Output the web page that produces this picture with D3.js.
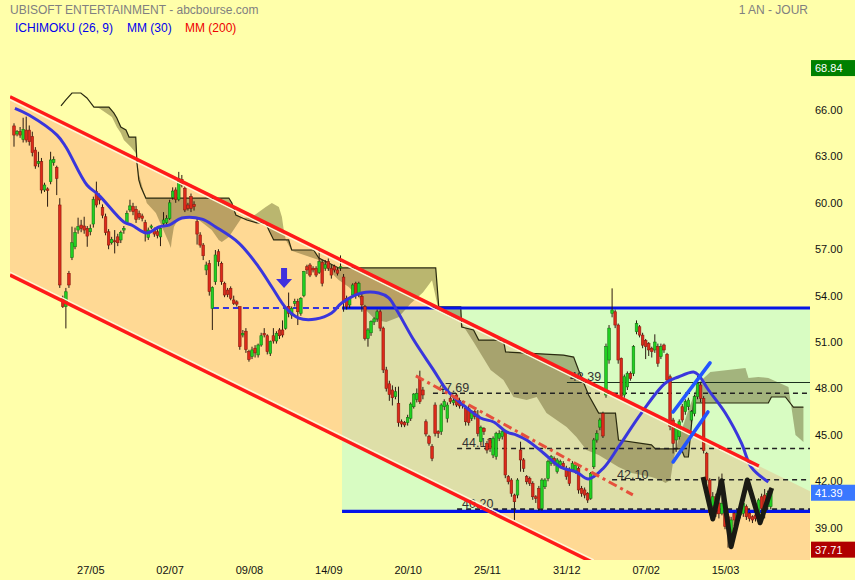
<!DOCTYPE html>
<html><head><meta charset="utf-8">
<script src="https://cdn.jsdelivr.net/npm/d3@7"></script>
<style>body{margin:0;background:#FFFFAA;} svg{display:block;font-family:"Liberation Sans",Arial,sans-serif;}</style>
</head><body><svg id="c" width="855" height="580"></svg>
<script>
// ---------- DATA ----------
const firstDay = "2021-04-22";
const nDays = 249;
const tickLabels = ["27/05","02/07","09/08","14/09","20/10","25/11","31/12","07/02","15/03"];
const yTickValues = [66,63,60,57,54,51,48,45,42,39];

const opens = [64.97,64.45,64.6,64.1,64.7,64.7,64.28,63.41,62.55,62.66,60.83,60.9,61.37,62.6,62.29,59.86,53.8,53.3,55.44,56.47,57.16,58.24,58.56,58.5,58.35,58.13,58.63,60.72,60.4,59.7,59.1,58.13,57.42,57.55,57.8,57.6,58.24,58.72,59.54,59.75,59.58,59.3,59.15,58.72,57.77,58.42,58.24,58.13,57.8,58.67,58.72,59.0,60.35,60.83,60.22,61.52,60.94,59.86,60.4,59.9,58.78,
57.92,57.27,55.66,56.09,53.18,54.9,56.84,56.09,54.8,54.36,54.47,53.72,53.6,53.29,51.46,51.7,50.38,50.06,50.6,50.17,50.81,51.56,51.41,50.27,51.41,51.07,51.78,51.78,51.89,53.3,52.75,53.5,53.61,52.86,54.0,55.87,55.98,55.77,55.77,55.5,56.15,55.77,56.2,55.77,55.9,55.66,55.8,55.2,53.83,53.4,54.04,54.8,54.1,53.94,53.29,51.24,51.6,52.3,52.5,52.96,51.9,49.2,48.3,47.9,
47.47,47.04,45.85,45.79,45.79,46.07,46.82,47.3,48.65,47.9,45.85,44.9,44.24,46.93,45.21,45.21,46.82,46.07,47.36,47.08,47.58,47.21,46.9,46.72,46.72,46.07,46.5,46.28,44.56,45.42,44.45,44.67,43.7,43.59,44.78,44.9,45.21,42.3,42.08,41.11,41.11,44.02,43.38,42.3,42.19,41.87,41.0,41.54,40.25,41.65,42.19,43.16,43.48,42.62,43.05,43.16,42.84,42.73,42.73,42.62,42.84,41.54,41.44,41.22,40.9,42.94,44.67,45.5,
46.39,47.58,49.84,52.86,52.96,52.1,49.95,47.58,48.1,48.98,48.98,51.67,51.99,51.45,51.1,50.9,50.6,50.49,50.7,50.06,50.81,50.2,48.76,45.96,44.67,44.88,46.82,46.5,46.82,45.96,46.39,47.47,48.22,47.36,43.8,
42.08,40.4,41.0,40.6,39.93,39.93,39.71,38.53,39.93,39.5,39.82,39.93,40.36,39.93,39.71,39.82,39.93,41.0,41.11,40.36,40.36];
const highs = [65.14,64.7,64.9,65.5,65.57,65.0,64.6,63.6,63.3,62.9,61.3,61.0,63.3,63.0,62.4,60.3,54.0,54.5,55.6,58.46,58.4,59.04,58.9,59.1,58.5,58.6,60.4,61.37,60.6,59.9,59.3,58.3,57.8,58.24,58.0,58.2,58.5,59.5,60.2,60.0,59.8,59.5,59.3,58.9,58.4,58.6,58.4,58.3,58.5,59.4,59.2,60.2,61.0,61.0,62.0,61.8,61.1,60.0,60.6,60.1,59.0,
58.1,57.4,56.2,56.3,54.6,56.95,57.0,56.2,54.9,54.5,54.6,54.0,53.7,53.3,51.78,51.9,50.5,50.7,50.8,50.9,51.6,51.9,51.5,51.1,51.9,51.7,51.9,52.4,53.3,54.2,53.3,53.8,53.8,53.9,55.6,56.0,56.1,55.9,55.9,57.1,56.3,56.3,56.4,56.0,56.0,55.8,56.6,55.4,54.0,53.9,54.8,54.9,54.9,54.1,53.4,51.9,52.4,52.6,53.1,53.1,52.0,49.4,48.5,48.2,
48.1,48.12,46.0,45.9,46.3,47.1,47.7,48.0,49.15,48.1,46.0,45.0,44.4,47.1,45.3,47.04,47.3,47.1,47.5,47.4,47.7,47.4,47.2,46.9,46.9,46.6,46.6,46.6,45.6,45.5,44.6,44.8,44.9,45.2,45.3,45.4,45.3,42.4,42.2,41.2,42.2,44.56,43.5,42.4,42.3,42.0,41.1,41.7,42.2,42.2,43.4,43.7,43.6,43.5,43.4,43.3,43.0,42.9,43.3,43.2,43.0,41.7,41.6,41.3,42.6,44.8,45.3,46.1,
46.5,50.9,52.1,54.47,53.1,52.2,50.0,48.9,49.1,49.1,50.8,52.4,52.1,51.6,51.2,51.0,50.7,51.5,50.9,50.9,50.9,50.3,48.9,46.1,45.5,46.0,47.0,47.3,47.4,46.6,47.6,48.8,48.4,47.5,43.9,
42.2,41.3,41.2,42.3,42.5,40.1,39.8,39.7,40.0,40.2,40.4,40.7,40.5,40.0,39.8,39.9,40.9,41.2,41.5,41.4,41.6];
const lows = [63.63,64.3,64.2,63.9,63.9,63.7,63.0,62.2,62.3,60.6,60.7,59.75,61.2,62.4,60.5,54.5,53.2,51.88,54.5,56.3,57.0,58.0,58.1,58.0,57.16,57.9,58.4,59.7,59.9,59.0,57.9,57.0,57.3,56.73,57.2,57.4,58.0,58.6,59.4,59.2,58.7,58.9,58.8,57.5,57.6,58.3,57.8,57.7,57.2,58.5,58.6,58.9,60.2,60.0,60.1,61.0,59.4,59.5,59.4,59.5,57.3,
57.1,56.3,55.33,54.0,51.78,54.7,55.9,54.7,53.9,53.9,53.7,53.4,53.3,50.5,51.3,50.3,49.73,49.9,50.0,50.0,50.7,51.3,50.2,50.1,50.9,50.9,51.2,51.3,51.8,52.6,52.5,53.3,52.1,52.7,53.9,55.4,55.2,55.5,55.2,55.4,54.6,55.6,55.6,55.1,55.5,55.3,55.6,52.96,53.1,53.2,53.9,53.8,53.9,52.96,51.1,50.7,51.4,52.1,52.3,51.7,49.0,47.8,47.2,46.9,
47.3,45.53,45.5,45.5,45.6,45.9,46.7,47.1,47.0,47.3,44.9,44.3,43.3,44.9,44.8,45.0,46.6,45.8,47.0,46.9,46.8,46.7,46.7,45.6,45.6,45.9,46.0,44.9,44.3,45.0,43.8,43.9,43.5,43.4,44.6,44.7,42.2,41.8,41.0,39.5,40.9,42.62,42.6,41.8,41.7,40.8,40.6,40.1,40.1,41.5,42.0,43.0,43.0,42.5,42.9,42.8,42.1,41.7,42.6,42.5,41.2,41.0,40.9,40.6,40.8,42.8,44.5,45.3,
44.8,47.4,49.6,52.6,51.9,49.6,47.3,47.4,47.9,48.5,48.8,51.5,51.3,50.6,49.9,50.1,50.0,50.3,49.4,49.9,50.3,48.4,45.3,43.8,43.9,44.7,45.8,46.3,46.6,45.8,46.2,47.3,47.1,43.8,41.9,
39.8,40.2,39.7,39.6,39.8,38.9,37.71,38.4,39.1,39.3,39.6,39.7,39.5,39.4,39.3,39.4,39.8,40.1,39.6,40.2,40.2];
const closes = [64.38,64.6,64.38,64.75,64.06,63.95,63.24,62.38,62.66,60.83,61.15,60.8,62.77,62.8,61.58,54.69,53.3,54.25,54.69,57.42,58.07,58.46,58.35,58.24,57.85,58.35,60.22,59.86,60.18,59.2,58.07,57.27,57.64,57.5,57.42,58.07,58.35,59.32,59.8,59.43,58.93,59.06,59.0,58.03,58.24,58.5,57.98,57.9,58.35,58.89,59.0,60.0,60.76,60.22,61.58,61.15,59.54,59.64,59.64,59.75,57.98,
57.27,56.58,55.98,54.26,54.52,56.63,56.2,54.9,54.04,54.08,53.83,53.5,53.45,50.7,51.56,50.53,49.88,50.49,50.3,50.81,51.41,51.46,50.38,51.03,51.07,51.56,51.41,51.46,53.18,52.86,53.18,53.61,52.96,53.83,55.55,55.66,55.33,55.66,55.33,56.2,54.8,56.0,55.77,55.33,55.66,55.45,55.87,53.61,53.3,53.8,54.69,54.0,54.8,53.4,51.24,51.78,52.32,52.5,52.96,51.9,49.2,48.0,47.6,47.4,
47.79,45.79,45.7,45.64,46.13,46.99,47.64,47.69,47.15,47.58,45.06,44.45,43.48,45.1,45.1,46.93,47.15,46.93,47.15,47.21,46.93,46.87,47.08,45.85,45.79,46.5,46.18,45.1,45.49,45.21,44.02,44.13,44.78,45.1,45.1,45.21,42.41,41.97,41.22,40.68,42.08,43.38,42.84,41.97,41.87,41.0,40.9,40.25,42.08,42.08,43.27,43.59,43.16,43.38,43.27,42.94,42.3,41.87,43.16,43.05,41.44,41.22,41.11,40.79,42.51,44.67,45.1,45.96,
44.93,50.7,51.9,53.07,52.1,49.84,47.47,48.76,48.98,48.65,50.7,52.2,51.45,50.8,50.7,50.49,50.38,51.0,49.63,50.7,50.49,48.55,45.53,44.45,45.4,45.85,45.96,47.15,47.25,46.5,47.47,48.33,47.36,44.0,42.08,
40.0,41.0,39.9,39.9,40.57,39.07,39.07,39.5,39.5,39.93,40.25,40.57,39.71,39.6,39.5,39.6,40.79,40.25,40.25,41.22,41.39];

// MM 30
const mmIdx = [0.3,4.9,14.1,17,23.9,27.8,36,38.6,43.5,47.5,50.8,55,61.6,66.1,73.7,80.2,84.5,89.1,93.3,98.9,104.1,107.4,113.9,119.5,122.8,125.4,131,137.5,141.8,146.4,152.9,157.2,161.4,164.7,168,173.5,179.1,184.3,188.3,193.2,198.1,205.6,213.5,217.7,222.7,224.3,227.6,233.1,238.4,241.6,247.2];
const mmVal = [66.11,65.68,64.38,63.61,61.15,60.5,58.76,58.56,58.05,58.44,58.56,59.02,58.95,58.44,57.4,55.85,54.56,53.2,52.55,52.49,52.88,53.52,54.17,54.17,53.85,53.07,51.13,49.19,47.9,47.06,46.09,45.83,45.19,44.99,44.67,43.83,42.92,42.6,42.15,42.86,44.22,46.41,48.35,48.74,49.06,48.87,47.9,46.41,44.47,42.92,41.95];

// Ichimoku cloud spans (shifted 26 days ahead)
const spanBIdx = [15.4,17.0,19.0,21.9,23.9,26.2,31.1,32.7,33.7,35.0,36.7,37.7,39.9,40.3,40.9,41.6,43.2,70.4,71.4,72.7,76.3,79.6,82.5,83.5,85.1,90.0,91.0,98.2,99.9,106.4,138.2,139.2,146.4,146.7,150.6,152.3,160.4,161.1,180.1,183.4,185.0,188.3,191.6,197.1,198.1,208.9,210.2,218.7,219.7,221.0,222.7,247.2,248.2,252.8,255.4,258.7];
const spanBVal = [66.26,66.65,67.10,67.10,66.78,66.19,66.19,65.81,65.48,64.90,64.71,64.25,64.25,62.57,61.48,61.02,60.31,60.31,59.99,59.21,58.89,58.70,58.70,58.24,57.60,57.60,56.95,56.95,56.43,55.79,55.79,53.27,53.27,51.97,51.78,51.13,51.13,50.36,50.16,50.03,49.19,47.58,46.41,46.41,44.67,44.35,44.09,44.09,43.57,43.57,47.06,47.06,47.45,47.45,46.80,46.80];
const spanAIdx = [15.4,17.0,19.0,21.9,23.9,26.2,27.8,32.1,33.7,35.0,36.0,38.3,39.9,41.0,43.5,46.5,48.5,50.8,51.4,51.7,52.4,54.0,57.3,60.6,64.8,67.1,68.1,70.4,74.5,77.9,82.5,84.5,86.8,87.8,88.4,89.1,91.0,99.9,104.1,106.4,109.7,113.0,115.3,118.5,122.0,126.0,130.0,134.0,137.0,139.2,146.4,150.6,156.2,160.4,163.7,168.0,171.3,174.5,181.1,184.3,187.6,191.6,198.1,202.4,208.9,211.9,213.5,215.1,216.1,217.7,221.0,224.3,228.2,239.7,240.7,243.9,247.2,253.8,256.1,258.7];
const spanAVal = [66.26,66.65,67.10,67.10,66.78,66.19,66.13,65.55,64.90,64.51,64.06,63.61,63.22,61.80,59.99,59.34,58.44,57.40,57.08,57.60,58.44,59.02,59.08,58.89,58.24,57.60,57.47,57.79,59.00,59.08,59.73,59.99,59.73,59.08,58.24,57.60,56.90,56.30,55.46,55.01,54.56,53.91,53.07,52.43,52.30,52.60,53.50,54.20,55.00,53.00,52.30,51.00,49.19,48.55,47.45,47.25,47.45,46.41,45.51,44.86,44.02,43.70,42.92,42.53,42.28,42.08,41.89,42.08,43.38,44.67,46.61,48.35,49.06,49.32,48.68,48.74,48.68,48.09,44.99,44.54];

// drawn analysis objects (index, price)
const channelUpper = [[-1.31,66.86],[244.1,42.99]];
const channelLower = [[-1.31,55.33],[190,36.72]];
const boxRange = {from:107.5, to:262, top:53.2, bottom:40.05};
const supportDashFrom = 65.2;
const levels = [{v:47.69,from:137.3,label:"47.69"},{v:44.12,from:145.2,label:"44.12"},{v:42.10,from:196,label:"42.10"},{v:40.20,from:145.2,label:"40.20"}];
const level4839 = {v:48.39,from:181.2,label:"48.39"};
const trendDashDot = [[131.7,48.81],[202.8,41.12]];
const flagLine1 = [[216,46.48],[228.1,49.65]];
const flagLine2 = [[216,43.25],[227.4,46.48]];
const wPattern = [[225.8,42.28],[229.0,39.56],[231.9,42.04],[235,37.77],[240.3,42.08],[244.5,39.32],[248.3,41.57]];
const arrowAt = {i:88.5, top:55.79, tip:54.5};
const priceTags = [{v:68.84,label:"68.84",color:"#008000"},{v:41.39,label:"41.39",color:"#3a78ff"},{v:37.71,label:"37.71",color:"#b00000"}];

// ---------- DATES ----------
const dates = [];
{ let d = new Date(firstDay+"T12:00:00"); while (dates.length < nDays) { const wd = d.getDay(); if (wd!==0 && wd!==6) dates.push(new Date(d)); d.setDate(d.getDate()+1);} }
const fmt = d3.timeFormat("%d/%m");
const tickIdx = tickLabels.map(l => dates.findIndex(d => fmt(d)===l));

// ---------- SCALES ----------
const x = d3.scaleLinear().domain([0,233]).range([14,725]);
const y = d3.scaleLinear().domain([39,66]).range([527.7,110]);
const svg = d3.select("#c");
const PL=10, PR=810, PT=40, PB=560;
const defs = svg.append("defs");
defs.append("clipPath").attr("id","plot").append("rect").attr("x",PL).attr("y",PT).attr("width",PR-PL).attr("height",PB-PT);
const lineAt = (seg,i)=> seg[0][1] + (seg[1][1]-seg[0][1])*(i-seg[0][0])/(seg[1][0]-seg[0][0]);
const iR = x.invert(PR+2), iL = channelUpper[0][0];
const chanPoly = [[iL,lineAt(channelUpper,iL)],[iR,lineAt(channelUpper,iR)],[iR,lineAt(channelLower,iR)],[iL,lineAt(channelLower,iL)]];
const polyStr = chanPoly.map(p=>x(p[0])+","+y(p[1])).join(" ");
defs.append("clipPath").attr("id","chan").append("polygon").attr("points",polyStr);

svg.append("rect").attr("width",855).attr("height",580).attr("fill","#FFFFAA");
const plot = svg.append("g").attr("clip-path","url(#plot)");

// channel fill
plot.append("polygon").attr("points",polyStr).attr("fill","#FFD994");
// range rect
const rx0=x(boxRange.from), rx1=x(Math.min(boxRange.to,iR)), ry0=y(boxRange.top), ry1=y(boxRange.bottom);
plot.append("rect").attr("x",rx0).attr("y",ry0).attr("width",rx1-rx0).attr("height",ry1-ry0).attr("fill","#D8FCC2");
plot.append("g").attr("clip-path","url(#chan)").append("rect").attr("x",rx0).attr("y",ry0).attr("width",rx1-rx0).attr("height",ry1-ry0).attr("fill","#DEDFA8");

// cloud
const ln = d3.line().x(d=>x(d[0])).y(d=>y(d[1]));
const spanB = spanBIdx.map((i,k)=>[i,spanBVal[k]]);
const spanA = spanAIdx.map((i,k)=>[i,spanAVal[k]]);
plot.append("path").attr("d", ln(spanB.concat(spanA.slice().reverse()))+"Z").attr("fill","rgba(90,82,30,0.42)").attr("stroke","none");
plot.append("path").attr("d", ln(spanB)).attr("fill","none").attr("stroke","#2a2a10").attr("stroke-width",1.2);

// levels
const lv = plot.append("g");
levels.forEach(L=>{
  lv.append("line").attr("x1",x(L.from)).attr("x2",PR).attr("y1",y(L.v)).attr("y2",y(L.v)).attr("stroke","#222").attr("stroke-width",1.6).attr("stroke-dasharray","5,4");
  lv.append("text").attr("x",x(L.from)+5).attr("y",y(L.v)-1).attr("font-size",12.5).attr("fill","#333").text(L.label);
});
lv.append("line").attr("x1",x(level4839.from)).attr("x2",PR).attr("y1",y(level4839.v)).attr("y2",y(level4839.v)).attr("stroke","#1c3020").attr("stroke-width",1.1);
lv.append("text").attr("x",x(level4839.from)+3).attr("y",y(level4839.v)-1).attr("font-size",12.5).attr("fill","#333").text(level4839.label);

// blue range lines
plot.append("line").attr("x1",x(supportDashFrom)).attr("x2",rx0).attr("y1",ry0).attr("y2",ry0).attr("stroke","#3535dd").attr("stroke-width",2).attr("stroke-dasharray","6,4");
[ry0,ry1].forEach(yy=>plot.append("line").attr("x1",rx0).attr("x2",PR).attr("y1",yy).attr("y2",yy).attr("stroke","#0514e8").attr("stroke-width",3.2));

// candles
const cw = 2.6;
const cg = plot.append("g");
dates.forEach((d,i)=>{
  const o=opens[i],h=highs[i],l=lows[i],c=closes[i];
  const up = c>=o, cx=x(i);
  cg.append("line").attr("x1",cx).attr("x2",cx).attr("y1",y(h)).attr("y2",y(l)).attr("stroke","#2a1a10").attr("stroke-width",1);
  const top=y(Math.max(o,c)), bot=y(Math.min(o,c));
  cg.append("rect").attr("x",cx-cw/2).attr("y",top).attr("width",cw).attr("height",Math.max(1,bot-top))
    .attr("fill",up?"#22d022":"#dd2a1a").attr("stroke",up?"#137a13":"#8a1a10").attr("stroke-width",0.6);
});

// MM30
const mm = mmIdx.map((i,k)=>[i,mmVal[k]]);
plot.append("path").attr("d", d3.line().x(d=>x(d[0])).y(d=>y(d[1])).curve(d3.curveCatmullRom.alpha(0.5))(mm)).attr("fill","none").attr("stroke","#3a36dc").attr("stroke-width",3);

// channel red lines
const chanEnd = [[iL,lineAt(channelUpper,iL)],[channelUpper[1][0],channelUpper[1][1]]];
const lowEnd = [[iL,lineAt(channelLower,iL)],[channelLower[1][0],channelLower[1][1]]];
plot.append("path").attr("d",ln(chanEnd)).attr("transform","translate(0,3)").attr("stroke","#FFF6D8").attr("stroke-width",1.4).attr("fill","none");
plot.append("path").attr("d",ln(lowEnd)).attr("transform","translate(0,-3)").attr("stroke","#FFF6D8").attr("stroke-width",1.4).attr("fill","none");
plot.append("path").attr("d",ln(chanEnd)).attr("stroke","#ff1a1a").attr("stroke-width",3.4).attr("fill","none");
plot.append("path").attr("d",ln(lowEnd)).attr("stroke","#ff1a1a").attr("stroke-width",3.4).attr("fill","none");

// dash-dot trend
plot.append("path").attr("d",ln(trendDashDot)).attr("stroke","#e6503c").attr("stroke-width",3).attr("stroke-dasharray","9,4,3,4").attr("fill","none");
// flag
[flagLine1,flagLine2].forEach(f=>plot.append("path").attr("d",ln(f)).attr("stroke","#2255ff").attr("stroke-width",3.6).attr("stroke-linecap","round").attr("fill","none"));
// W
plot.append("path").attr("d",ln(wPattern)).attr("stroke","#1a1a14").attr("stroke-width",5).attr("stroke-linejoin","round").attr("fill","none");
// arrow
{ const ax=x(arrowAt.i), at=y(arrowAt.top), tp=y(arrowAt.tip), hb=tp-9;
  plot.append("polygon").attr("points",[[ax-3,at],[ax+3,at],[ax+3,hb],[ax+8,hb],[ax,tp],[ax-8,hb],[ax-3,hb]].map(p=>p.join(",")).join(" ")).attr("fill","#4030dd"); }

// axes
const ya = svg.append("g").attr("transform",`translate(813,0)`).call(d3.axisRight(y).tickValues(yTickValues).tickFormat(d3.format(".2f")).tickSize(0).tickPadding(2));
ya.select(".domain").remove();
ya.selectAll("text").attr("font-size",11).attr("fill","#111").attr("font-family","'Liberation Sans',Arial,sans-serif");
const xa = svg.append("g").attr("transform",`translate(0,566)`).call(d3.axisBottom(x).tickValues(tickIdx).tickFormat((d,k)=>tickLabels[k]).tickSize(0).tickPadding(0));
xa.select(".domain").remove();
xa.selectAll("text").attr("font-size",11).attr("fill","#111").attr("font-family","'Liberation Sans',Arial,sans-serif");

// price tags
priceTags.forEach(t=>{
  const cy=y(t.v)+2;
  svg.append("rect").attr("x",811).attr("y",cy-8).attr("width",44).attr("height",16).attr("fill",t.color);
  svg.append("text").attr("x",815).attr("y",cy+4).attr("font-size",11).attr("fill","#fff").text(t.label);
});

// titles
svg.append("text").attr("x",10).attr("y",14).attr("font-size",12).attr("fill","#808080").text("UBISOFT ENTERTAINMENT - abcbourse.com");
svg.append("text").attr("x",808).attr("y",14).attr("text-anchor","end").attr("font-size",12).attr("fill","#808080").text("1 AN - JOUR");
const lg = svg.append("text").attr("y",32).attr("font-size",12);
lg.append("tspan").attr("x",15).attr("fill","#0000ee").text("ICHIMOKU (26, 9)");
lg.append("tspan").attr("x",127).attr("fill","#0000ee").text("MM (30)");
lg.append("tspan").attr("x",185).attr("fill","#ee0000").text("MM (200)");
</script></body></html>
